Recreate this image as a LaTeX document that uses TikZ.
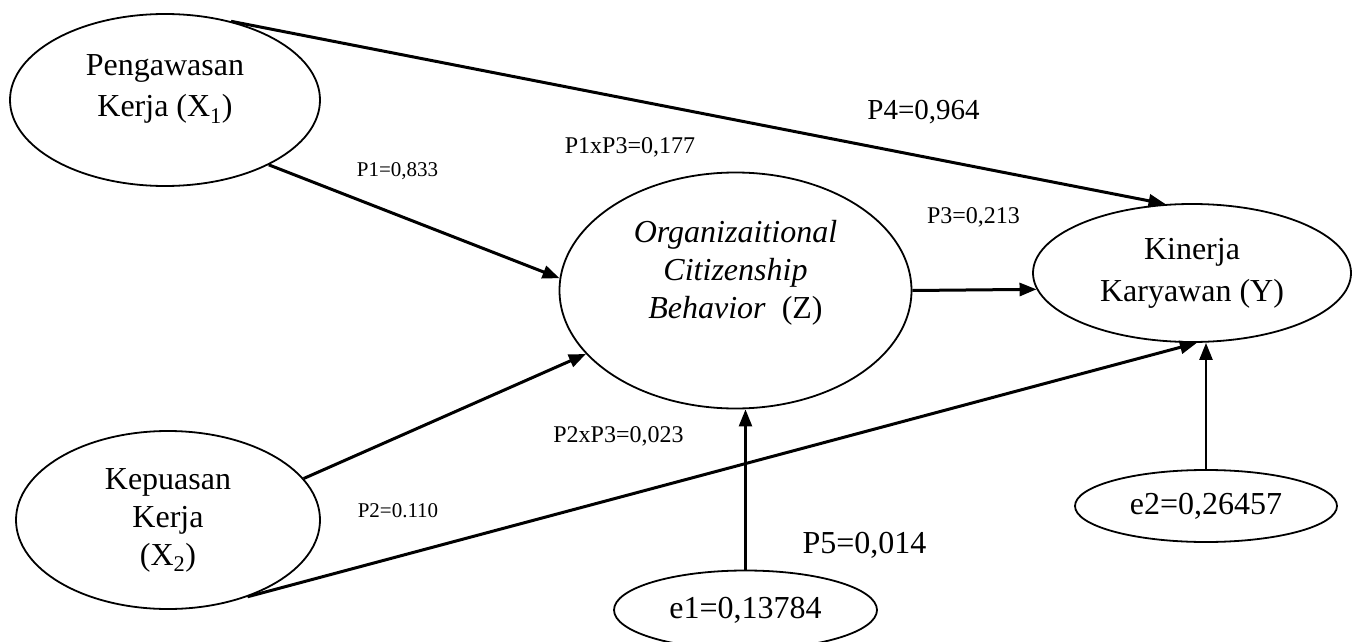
\documentclass[tikz,border=0pt]{standalone}
\usepackage{fontspec}
\setmainfont{Liberation Serif}
\usetikzlibrary{shapes.geometric,arrows.meta}
\newcommand\fsz[2]{\fontsize{#1}{#2}\selectfont}
\tikzset{
  oval/.style={ellipse, draw, line width=1.8pt, inner sep=2pt, align=center},
  ovaltext/.style={align=center, inner sep=0pt},
  arrowline/.style={line width=3pt, -{Triangle[length=17pt,width=13pt]}},
  errline/.style={line width=2.4pt, -{Triangle[length=17pt,width=13pt]}},
  coef/.style={anchor=base, inner sep=0pt},
}
\begin{document}
\begin{tikzpicture}[x=1pt, y=-1pt]
\clip (0,0) rectangle (1353,642);
% latent variables
\node[oval, minimum width=310pt, minimum height=172pt,
      label={[ovaltext, font=\fsz{32}{41}, yshift=10.6pt]center:{Pengawasan\\Kerja (X\textsubscript{1})}}]
      (X1) at (165,100) {};
\node[oval, minimum width=352pt, minimum height=236pt,
      label={[ovaltext, font=\fsz{32}{38}, yshift=18pt]center:{\textit{Organizaitional}\\\textit{Citizenship}\\\textit{Behavior}\ \ (Z)}}]
      (Z) at (735.5,290.5) {};
\node[oval, minimum width=318pt, minimum height=138pt, font=\fsz{32}{42}]
      (Y) at (1192,273) {Kinerja\\Karyawan (Y)};
\node[oval, minimum width=304pt, minimum height=178pt, font=\fsz{32}{38}]
      (X2) at (168,520) {Kepuasan\\Kerja\\(X\textsubscript{2})};
\node[oval, minimum width=263pt, minimum height=79pt, font=\fsz{32}{38}]
      (e1) at (745.5,610) {e1=0,13784};
\node[oval, minimum width=262pt, minimum height=72pt, font=\fsz{32}{38}]
      (e2) at (1206,506) {e2=0,26457};
% paths
\draw[arrowline] (X1.50) -- (Y.111);
\draw[arrowline] (X1.-32) -- (Z.176);
\draw[arrowline] (X2.17) -- (Z.203);
\draw[arrowline] (X2.-44) -- (Y.-86);
\draw[arrowline] (Z.east) -- (Y.186);
\draw[errline] (e1.north) -- (e1.north |- Z.south);
\draw[errline] (e2.north) -- (e2.north |- Y.south);
% coefficients
\node[coef, font=\fsz{21}{25}] (p1) at (397.5,176) {P1=0,833};
\node[coef, font=\fsz{24}{28}] (p1p3) at (630,153) {P1xP3=0,177};
\node[coef, font=\fsz{29}{34}] (p4) at (923.5,119) {P4=0,964};
\node[coef, font=\fsz{24}{28}] (p3) at (973.5,223) {P3=0,213};
\node[coef, font=\fsz{24}{28}] (p2p3) at (618.5,442) {P2xP3=0,023};
\node[coef, font=\fsz{21}{25}] (p2) at (398,517) {P2=0.110};
\node[coef, font=\fsz{32}{38}] (p5) at (864.5,553) {P5=0,014};
\end{tikzpicture}
\end{document}
